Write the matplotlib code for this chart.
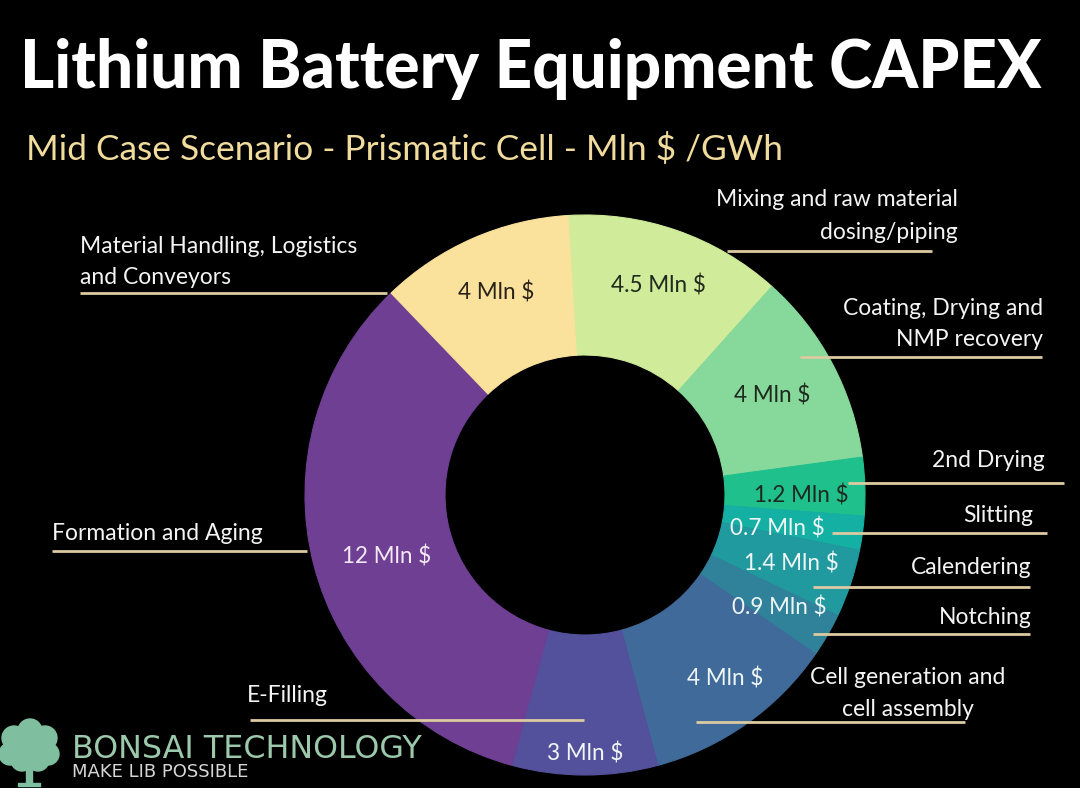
import matplotlib
matplotlib.use("Agg")
import matplotlib.pyplot as plt
from matplotlib.patches import Circle, Rectangle
import numpy as np

# ---------------- data ----------------
categories = [
    "Mixing and raw material\ndosing/piping",
    "Coating, Drying and\nNMP recovery",
    "2nd Drying",
    "Slitting",
    "Calendering",
    "Notching",
    "Cell generation and\ncell assembly",
    "E-Filling",
    "Formation and Aging",
    "Material Handling, Logistics\nand Conveyors",
]
values = [4.5, 4, 1.2, 0.7, 1.4, 0.9, 4, 3, 12, 4]
value_labels = ["4.5 Mln $", "4 Mln $", "1.2 Mln $", "0.7 Mln $", "1.4 Mln $",
                "0.9 Mln $", "4 Mln $", "3 Mln $", "12 Mln $", "4 Mln $"]
colors = ["#d0eb99", "#87d99b", "#20c08d", "#14b0a3", "#219a9f",
          "#2f8299", "#406a9a", "#53519b", "#6f3f94", "#fbe29c"]
value_text_colors = ["#1e2a1e", "#1e2a1e", "#1e2a1e", "#eef6f6", "#eef6f6",
                     "#eef6f6", "#eef6f6", "#eef6f6", "#f3e8f3", "#2a2418"]

title = "Lithium Battery Equipment CAPEX"
subtitle = "Mid Case Scenario - Prismatic Cell - Mln $ /GWh"

# ---------------- layout (pixels, y from top) ----------------
W, H = 1080, 788
CX, CY, R, RING = 585, 495, 280, 140
START = 93.5
value_label_r = [222, 212, 216, 195, 218, 224, 231, 259, 208, 221]
value_label_dang = [0, 0, -2, -2, 0, 0, 2, 0, 3, 0]
# label text: (x, [y per line], ha)
cat_text_pos = [
    (958, [199, 232], "right"),
    (1043, [308, 339], "right"),
    (1045, [460], "right"),
    (1033, [516], "right"),
    (1031, [568], "right"),
    (1032, [618], "right"),
    (908, [678, 709], "center"),
    (247, [696], "left"),
    (52, [534], "left"),
    (80, [246, 277], "left"),
]
leader_lines = [
    (251, 727, 932), (357, 800, 1042), (483, 848, 1064), (533, 832, 1047),
    (587, 813, 1030), (634, 813, 1030), (722, 696, 965), (720, 250, 584),
    (551, 52, 307), (293, 80, 387),
]

def Y(y):
    return H - y

fig = plt.figure(figsize=(W / 100, H / 100), dpi=100, facecolor="black")
ax = fig.add_axes([0, 0, 1, 1])
ax.set_facecolor("black")

wedges, _ = ax.pie(values, colors=colors, startangle=START, counterclock=False,
                   center=(CX, Y(CY)), radius=R,
                   wedgeprops=dict(width=RING, linewidth=0.8))
for w in wedges:
    w.set_edgecolor(w.get_facecolor())
ax.set_xlim(0, W)
ax.set_ylim(0, H)
ax.set_aspect("auto")
ax.axis("off")

fig.canvas.draw()
renderer = fig.canvas.get_renderer()

def fit_size(s, width, family, weight="normal", base=20):
    t = ax.text(0, 0, s, fontsize=base, family=family, weight=weight)
    w = t.get_window_extent(renderer).width
    t.remove()
    return base * width / w

FONT = "Lato"

# title and subtitle
ts = fit_size(title, 1023, FONT, "black")
ax.text(20, Y(88), title, fontsize=ts, family=FONT, weight="black",
        color="white", ha="left", va="baseline")
ss = fit_size(subtitle, 759, FONT, "normal")
ax.text(26, Y(160), subtitle, fontsize=ss, family=FONT, color="#f1dc9d",
        ha="left", va="baseline")

# leader lines
for (y, x0, x1) in leader_lines:
    ax.plot([x0, x1], [Y(y), Y(y)], color="#dccaa0", lw=2.0,
            solid_capstyle="butt", zorder=3)

# category labels
cs = fit_size("Material Handling, Logistics", 277, FONT)
for cat, (x, ys, ha) in zip(categories, cat_text_pos):
    for line, y in zip(cat.split("\n"), ys):
        ax.text(x, Y(y), line, fontsize=cs, family=FONT, color="#f4f4f4",
                ha=ha, va="center", zorder=4)

# value labels on ring
vs = fit_size("4.5 Mln $", 95, FONT)
for w, lab, col, rr, da in zip(wedges, value_labels, value_text_colors,
                               value_label_r, value_label_dang):
    ang = np.deg2rad((w.theta1 + w.theta2) / 2 + da)
    x = CX + rr * np.cos(ang)
    y = Y(CY) + rr * np.sin(ang)
    ax.text(x, y, lab, fontsize=vs, family=FONT, color=col,
            ha="center", va="center", zorder=5)

# logo
logo_col = "#7fbf9f"
for (cx, cy, r) in [(14, 738, 12), (30, 731, 12), (45, 738, 12), (10, 754, 11),
                    (48, 754, 11), (22, 760, 11), (38, 760, 11), (29, 747, 14)]:
    ax.add_patch(Circle((cx, Y(cy)), r, color=logo_col, zorder=6))
ax.add_patch(Rectangle((26, Y(784)), 6, 20, color=logo_col, zorder=6))
ax.add_patch(Rectangle((18, Y(786)), 22, 3, color=logo_col, zorder=6))
bs = fit_size("BONSAI TECHNOLOGY", 350, "DejaVu Sans")
ax.text(72, Y(749), "BONSAI TECHNOLOGY", fontsize=bs, family="DejaVu Sans",
        color="#9cc9ab", ha="left", va="center", zorder=6)
ms = fit_size("MAKE LIB POSSIBLE", 178, "DejaVu Sans")
ax.text(72, Y(772), "MAKE LIB POSSIBLE", fontsize=ms, family="DejaVu Sans",
        color="#d6d6d6", ha="left", va="center", zorder=6)

fig.savefig("out.png", dpi=100, facecolor="black")
